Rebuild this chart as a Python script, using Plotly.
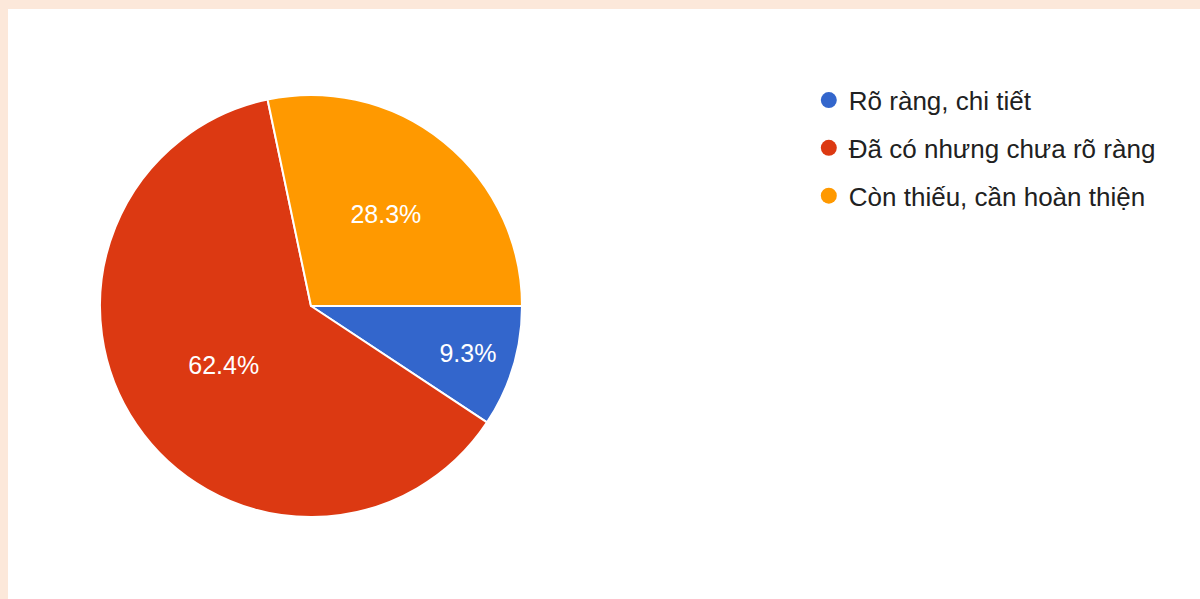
import plotly.graph_objects as go

categories = ["Rõ ràng, chi tiết", "Đã có nhưng chưa rõ ràng", "Còn thiếu, cần hoàn thiện"]
values = [9.3, 62.4, 28.3]
colors = ["#3366cc", "#dc3912", "#ff9900"]

W, H = 1200, 599
cx, cy, r = 311, 306, 211

fig = go.Figure()
fig.add_trace(go.Pie(
    labels=categories, values=values, sort=False, direction="clockwise", rotation=90,
    marker=dict(colors=colors, line=dict(color="white", width=2)),
    textinfo="percent", texttemplate="%{percent:.1%}", textposition="inside",
    insidetextfont=dict(color="white", size=25, family="Liberation Sans, Arial"),
    showlegend=False, hoverinfo="label+percent",
    domain=dict(x=[(cx - r) / W, (cx + r) / W], y=[1 - (cy + r) / H, 1 - (cy - r) / H]),
))
for i, (c, col) in enumerate(zip(categories, colors)):
    fig.add_trace(go.Scatter(
        x=[None], y=[None], mode="markers", name=c, legendgroup=str(i),
        marker=dict(symbol="circle", size=26, color=col),
    ))

fig.update_layout(
    width=W, height=H, margin=dict(l=0, r=0, t=0, b=0),
    paper_bgcolor="#fce8da", plot_bgcolor="rgba(0,0,0,0)",
    xaxis=dict(visible=False), yaxis=dict(visible=False),
    legend=dict(x=0.674, y=0.872, xanchor="left", yanchor="top",
                font=dict(size=26, color="#212121", family="Liberation Sans, Arial"),
                traceorder="grouped", tracegroupgap=11, bgcolor="rgba(0,0,0,0)",
                itemwidth=30),
    shapes=[dict(type="rect", xref="paper", yref="paper", x0=8 / W, x1=1.0, y0=0, y1=1 - 9 / H,
                 fillcolor="white", line=dict(width=0), layer="below")],
)
fig.write_html("out.html")
